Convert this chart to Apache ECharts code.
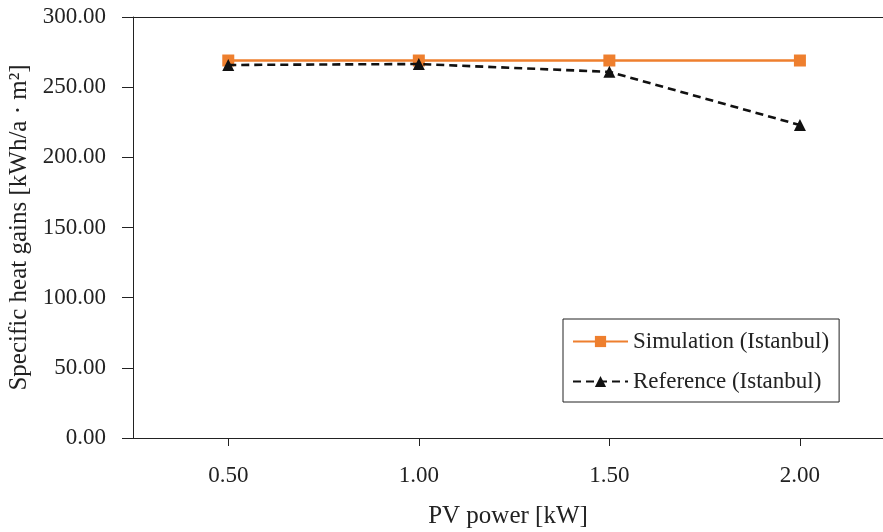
<!DOCTYPE html>
<html>
<head>
<meta charset="utf-8">
<script src="https://cdn.jsdelivr.net/npm/echarts@6/dist/echarts.min.js"></script>
<style>html,body{margin:0;padding:0;background:#fff}#c{width:883px;height:532px}</style>
</head>
<body>
<div id="c"></div>
<script>
const pvPower = [0.5, 1.0, 1.5, 2.0];
const simulation = [269.0, 269.0, 269.0, 269.0];
const reference = [265.8, 266.5, 260.9, 223.0];
const xTicks = [0.5, 1.0, 1.5, 2.0];
const yTicks = [0, 50, 100, 150, 200, 250, 300];

const FONT = 'Liberation Serif';
const chart = echarts.init(document.getElementById('c'));
chart.setOption({
  animation: false,
  grid: {left: 133, right: 0, top: 17, bottom: 94, containLabel: false, outerBoundsMode: 'none'},
  textStyle: {fontFamily: FONT},
  legend: {
    orient: 'vertical',
    left: 563, top: 319,
    padding: [11, 10, 9, 9],
    itemGap: 17,
    itemWidth: 55, itemHeight: 14,
    borderColor: '#222', borderWidth: 1, borderRadius: 0,
    backgroundColor: '#fff',
    textStyle: {fontFamily: FONT, fontSize: 23, color: '#222'},
    data: ['Simulation (Istanbul)', 'Reference (Istanbul)']
  },
  xAxis: [{
    type: 'value',
    min: 0.25, max: 2.218,
    name: 'PV power [kW]', nameLocation: 'middle', nameGap: 66,
    nameTextStyle: {fontFamily: FONT, fontSize: 25, color: '#222'},
    axisLine: {show: true, lineStyle: {color: '#222', width: 1}},
    axisTick: {show: true, inside: false, length: 8, customValues: xTicks, lineStyle: {color: '#222'}},
    axisLabel: {customValues: xTicks, margin: 26, fontFamily: FONT, fontSize: 23, color: '#222',
      formatter: v => v.toFixed(2)},
    splitLine: {show: false}
  }, {
    type: 'value', position: 'top',
    min: 0.25, max: 2.218,
    axisLine: {show: true, onZero: false, lineStyle: {color: '#222', width: 1}},
    axisTick: {show: false}, axisLabel: {show: false}, splitLine: {show: false}
  }],
  yAxis: {
    type: 'value',
    min: 0, max: 300, interval: 50,
    name: 'Specific heat gains [kWh/a · m²]', nameLocation: 'middle', nameGap: 98,
    nameTextStyle: {fontFamily: FONT, fontSize: 25, color: '#222'},
    axisLine: {show: true, lineStyle: {color: '#222', width: 1}},
    axisTick: {show: true, inside: false, length: 11, lineStyle: {color: '#222'}},
    axisLabel: {margin: 27, fontFamily: FONT, fontSize: 23, color: '#222',
      formatter: v => v.toFixed(2)},
    splitLine: {show: false}
  },
  series: [{
    name: 'Simulation (Istanbul)',
    type: 'line',
    data: pvPower.map((x, i) => [x, simulation[i]]),
    symbol: 'rect', symbolSize: 12,
    lineStyle: {color: '#EE7F2E', width: 2.4},
    itemStyle: {color: '#EE7F2E'},
    z: 2
  }, {
    name: 'Reference (Istanbul)',
    type: 'line',
    data: pvPower.map((x, i) => [x, reference[i]]),
    symbol: 'triangle', symbolSize: 12,
    lineStyle: {color: '#111', width: 2.6, type: [8, 5]},
    itemStyle: {color: '#111'},
    z: 3
  }]
});
</script>
</body>
</html>
